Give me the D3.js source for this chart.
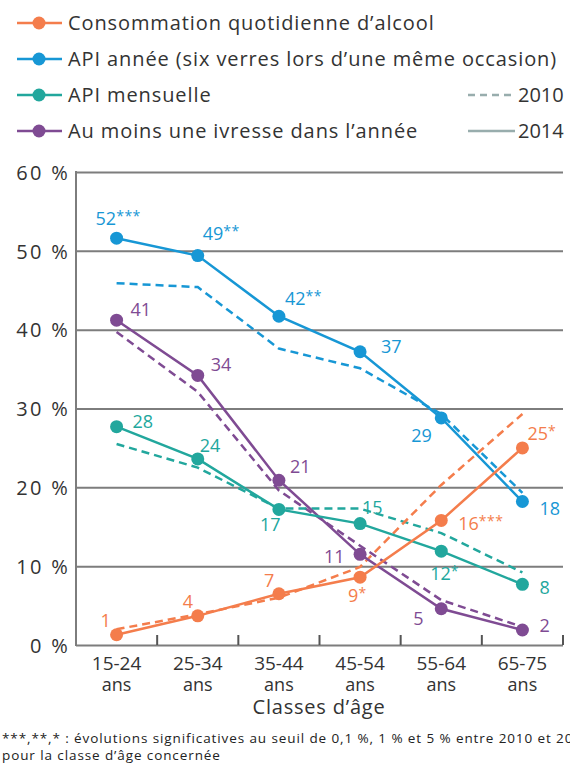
<!DOCTYPE html>
<html><head><meta charset="utf-8">
<script src="https://cdn.jsdelivr.net/npm/d3@7"></script>
<style>
html,body{margin:0;padding:0;background:#fff;overflow:hidden;}
svg{display:block;font-family:"Open Sans",sans-serif;}
</style></head>
<body>
<script>
// ---------- DATA ----------
const categories = ["15-24", "25-34", "35-44", "45-54", "55-64", "65-75"];
const categoryUnit = "ans";
const yTicks = [0, 10, 20, 30, 40, 50, 60];

const seriesNames = [
  "Consommation quotidienne d\u2019alcool",
  "API ann\u00e9e (six verres lors d\u2019une m\u00eame occasion)",
  "API mensuelle",
  "Au moins une ivresse dans l\u2019ann\u00e9e"
];
const yearNames = ["2010", "2014"];

// 2014 values (solid)
const quotidienne2014 = [1.3, 3.7, 6.5, 8.6, 15.8, 25.0];
const apiAnnee2014    = [51.6, 49.4, 41.7, 37.2, 28.8, 18.2];
const apiMensuelle2014= [27.7, 23.6, 17.2, 15.4, 11.9, 7.7];
const ivresse2014     = [41.2, 34.2, 20.9, 11.5, 4.6, 1.9];
// 2010 values (dashed)
const quotidienne2010 = [2.0, 3.9, 6.0, 9.9, 20.3, 29.3];
const apiAnnee2010    = [45.9, 45.4, 37.6, 35.1, 29.3, 19.3];
const apiMensuelle2010= [25.5, 22.5, 17.3, 17.3, 14.2, 9.2];
const ivresse2010     = [39.7, 32.1, 19.6, 12.6, 5.7, 2.3];

// value labels and significance marks
const quotidienneLabels = ["1", "4", "7", "9", "16", "25"];
const quotidienneSig    = ["", "", "", "*", "***", "*"];
const apiAnneeLabels    = ["52", "49", "42", "37", "29", "18"];
const apiAnneeSig       = ["***", "**", "**", "", "", ""];
const apiMensuelleLabels= ["28", "24", "17", "15", "12", "8"];
const apiMensuelleSig   = ["", "", "", "", "*", ""];
const ivresseLabels     = ["41", "34", "21", "11", "5", "2"];
const ivresseSig        = ["", "", "", "", "", ""];

const xTitle = "Classes d\u2019\u00e2ge";
const footnote1 = "***,**,* : \u00e9volutions significatives au seuil de 0,1 %, 1 % et 5 % entre 2010 et 2014";
const footnote2 = "pour la classe d\u2019\u00e2ge concern\u00e9e";

// ---------- LAYOUT / STYLE ----------
const colors = ["#f47d4c", "#1797d5", "#22a79d", "#7f4b93"];
const labelOffsets = [
  [[-16,-8],[-15,-7.5],[-15,-7],[-12,24.5],[17,9.5],[5,-8]],
  [[-21,-13],[5,-16],[6,-11],[21,1],[-30,24],[17,13]],
  [[16,1.5],[2,-7],[-19,22],[2,-10],[-11,29],[17,10]],
  [[14,-4.5],[13,-4],[11,-7],[-36,9],[-28,16],[17,2]]
];

const W = 570, H = 764;
const svg = d3.select("body").append("svg").attr("width", W).attr("height", H);

const x = d3.scalePoint().domain(categories).range([76, 563]).padding(0.5);
const xBand = d3.scaleBand().domain(categories).range([76, 563]).padding(0);
const y = d3.scaleLinear().domain([0, 60]).range([645, 172]);

// gridlines + y axis
const gridColor = "#7d7d7d";
const yAxis = d3.axisLeft(y).tickValues(yTicks).tickSize(-(563 - 76)).tickPadding(8)
  .tickFormat(d => d + " %");
const gy = svg.append("g").attr("transform", "translate(76,0)").call(yAxis);
gy.select(".domain").remove();
gy.selectAll(".tick line").attr("stroke", gridColor).attr("stroke-width", 2);
gy.selectAll(".tick text").attr("fill", "#333").attr("font-size", 20)
  .attr("letter-spacing", 2.3)
  .attr("font-family", "Open Sans, sans-serif").attr("x", -6).attr("dy", "0.36em");

// left axis line
svg.append("line").attr("x1", 76).attr("x2", 76).attr("y1", y(60) - 1).attr("y2", y(0) + 1)
  .attr("stroke", gridColor).attr("stroke-width", 2);

// bottom ticks at band boundaries
const gx = svg.append("g");
gx.selectAll("line.tk").data(categories).join("line").attr("class", "tk")
  .attr("x1", d => xBand(d) + xBand.bandwidth()).attr("x2", d => xBand(d) + xBand.bandwidth())
  .attr("y1", y(0)).attr("y2", y(0) - 10).attr("stroke", "#555").attr("stroke-width", 2);
gx.selectAll("text.cat").data(categories).join("text").attr("class", "cat")
  .attr("x", d => x(d)).attr("y", 670).attr("text-anchor", "middle").attr("fill", "#333")
  .attr("font-size", 19).text(d => d);
gx.selectAll("text.unit").data(categories).join("text").attr("class", "unit")
  .attr("x", d => x(d)).attr("y", 691).attr("text-anchor", "middle").attr("fill", "#333")
  .attr("font-size", 18).text(categoryUnit);
svg.append("text").attr("x", 319).attr("y", 714).attr("text-anchor", "middle")
  .attr("fill", "#333").attr("font-size", 20).attr("letter-spacing", 0.8).text(xTitle);

// series
const s2014 = [quotidienne2014, apiAnnee2014, apiMensuelle2014, ivresse2014];
const s2010 = [quotidienne2010, apiAnnee2010, apiMensuelle2010, ivresse2010];
const labels = [quotidienneLabels, apiAnneeLabels, apiMensuelleLabels, ivresseLabels];
const sigs = [quotidienneSig, apiAnneeSig, apiMensuelleSig, ivresseSig];

const line = d3.line().x((d, i) => x(categories[i])).y(d => y(d));

const order = [3, 2, 1, 0];
order.forEach(k => {
  svg.append("path").datum(s2010[k]).attr("d", line).attr("fill", "none")
    .attr("stroke", colors[k]).attr("stroke-width", 2.5).attr("stroke-dasharray", "8,5");
});
order.forEach(k => {
  svg.append("path").datum(s2014[k]).attr("d", line).attr("fill", "none")
    .attr("stroke", colors[k]).attr("stroke-width", 2.5);
  svg.append("g").selectAll("circle").data(s2014[k]).join("circle")
    .attr("cx", (d, i) => x(categories[i])).attr("cy", d => y(d)).attr("r", 6.5)
    .attr("fill", colors[k]);
});
order.forEach(k => {
  const t = svg.append("g").selectAll("text").data(s2014[k]).join("text")
    .attr("x", (d, i) => x(categories[i]) + labelOffsets[k][i][0])
    .attr("y", (d, i) => y(d) + labelOffsets[k][i][1])
    .attr("fill", colors[k]).attr("font-size", 18);
  t.append("tspan").text((d, i) => labels[k][i]);
  t.append("tspan").attr("font-size", 14).attr("dy", -4).attr("letter-spacing", 0.5)
    .text((d, i) => sigs[k][i]);
});

// legend
const lg = svg.append("g");
const rowsY = [23, 59, 95, 131];
seriesNames.forEach((nm, k) => {
  lg.append("line").attr("x1", 17).attr("x2", 62).attr("y1", rowsY[k]).attr("y2", rowsY[k])
    .attr("stroke", colors[k]).attr("stroke-width", 2.5);
  lg.append("circle").attr("cx", 39).attr("cy", rowsY[k]).attr("r", 6.5).attr("fill", colors[k]);
  lg.append("text").attr("x", 68).attr("y", rowsY[k]).attr("dy", "0.36em")
    .attr("fill", "#333").attr("font-size", 20).attr("letter-spacing", 0.9).text(nm);
});
const yearDash = ["7,5", null];
yearNames.forEach((yr, j) => {
  const yy = rowsY[2 + j];
  const l = lg.append("line").attr("x1", 468).attr("x2", 515).attr("y1", yy).attr("y2", yy)
    .attr("stroke", "#98adad").attr("stroke-width", 2.5);
  if (yearDash[j]) l.attr("stroke-dasharray", yearDash[j]);
  lg.append("text").attr("x", 518).attr("y", yy).attr("dy", "0.36em")
    .attr("fill", "#333").attr("font-size", 20).text(yr);
});

// footnote
svg.append("text").attr("x", 2).attr("y", 743).attr("fill", "#222").attr("font-size", 13.5)
  .attr("letter-spacing", 0.9).text(footnote1);
svg.append("text").attr("x", 2).attr("y", 760).attr("fill", "#222").attr("font-size", 13.5)
  .attr("letter-spacing", 0.9).text(footnote2);
</script>
</body></html>
